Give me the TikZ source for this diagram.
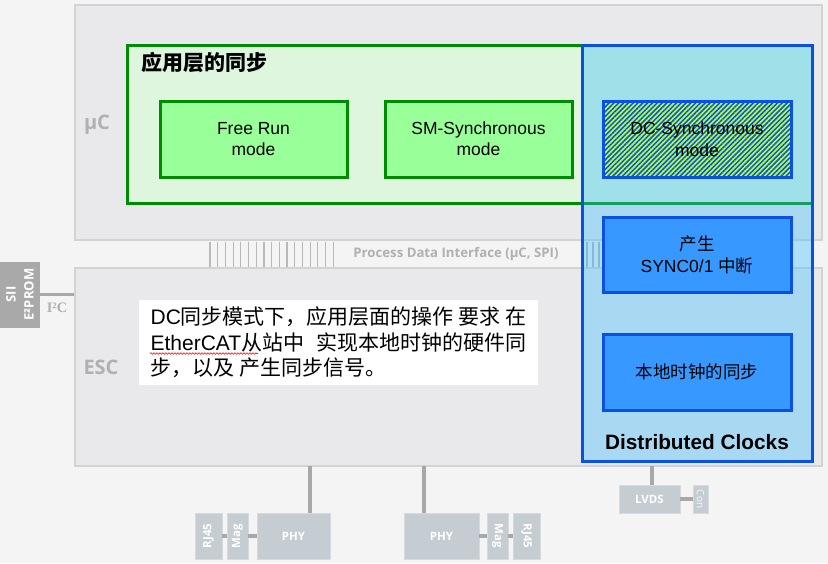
\documentclass[tikz,border=0pt]{standalone}
\usepackage{fontspec}
\setmainfont{Liberation Sans}
\newfontfamily\cjk{Noto Sans CJK SC}
\newfontfamily\uifont{Open Sans}
\newfontfamily\serifb{Liberation Serif}
\usepackage{xcolor}
\usetikzlibrary{positioning,patterns.meta,decorations.pathmorphing}
\newcommand{\zh}[1]{{\cjk #1}}

\definecolor{bggray}{HTML}{F4F4F4}
\definecolor{boxgray}{HTML}{E9E9EB}
\definecolor{boxline}{HTML}{D3D3D5}
\definecolor{lblgray}{HTML}{B0B0B0}
\definecolor{wiregray}{HTML}{A8A8A8}
\definecolor{siigray}{HTML}{A9A9A9}
\definecolor{greenfill}{HTML}{DDF6DD}
\definecolor{greenline}{HTML}{008C00}
\definecolor{modefill}{HTML}{99FF99}
\definecolor{dcfill}{HTML}{39BBFF}
\definecolor{dcline}{HTML}{0A50E2}
\definecolor{syncfill}{HTML}{3799FF}
\definecolor{dclime}{HTML}{B4FF3C}
\definecolor{portfill}{HTML}{C5CDD2}
\definecolor{portline}{HTML}{D4DADD}

\begin{document}
\begin{tikzpicture}[x=1pt,y=-1pt,
    block/.style={rectangle, inner sep=0pt, align=center},
    chipbox/.style={block, fill=boxgray, draw=boxline, line width=1.5},
    modebox/.style={block, fill=modefill, draw=greenline, line width=3,
        minimum width=187, minimum height=76, font=\fontsize{17.5}{21}\selectfont},
    dcbox/.style={block, fill=syncfill, draw=dcline, line width=3,
        minimum width=188, minimum height=76, font=\fontsize{17.5}{22}\selectfont},
    portbox/.style={block, fill=portfill, draw=portline, line width=0.8, text=white,
        font=\uifont\bfseries\fontsize{11.5}{13}\selectfont},
    wire/.style={wiregray, line width=3.5},
    pdiline/.style={wiregray!80, line width=1.2},
    graylbl/.style={text=lblgray, font=\uifont\bfseries\fontsize{20}{24}\selectfont}
]
    \useasboundingbox (0,0) rectangle (828,563);
    \fill[bggray] (0,0) rectangle (828,563);

    % uC and ESC
    \node[chipbox, minimum width=747, minimum height=235] (uc) at (448.5,122.5) {};
    \node[chipbox, minimum width=747, minimum height=198] (esc) at (448.5,367) {};
    \node[graylbl] (uclbl) at (97,125) {µC};
    \node[graylbl] (esclbl) at (101,367) {ESC};

    % Process Data Interface
    \foreach \i in {0,...,16}
        \draw[pdiline] (210+\i*7.7,242) -- (210+\i*7.7,267);
    \foreach \xx in {587,593,599}
        \draw[pdiline] (\xx,242) -- (\xx,267);
    \node[text=lblgray, font=\uifont\bfseries\fontsize{13.2}{15}\selectfont] (pdi) at (456,254)
        {Process Data Interface (µC, SPI)};

    % SII EEPROM
    \node[block, fill=siigray, rotate=90, minimum width=66, minimum height=40, text=white,
        font=\uifont\bfseries\fontsize{13}{18}\selectfont] (sii) at (20,294.5) {SII\\E²PROM};
    \draw[wiregray, line width=2.2] (sii) -- (sii -| esc.west);
    \node[text=lblgray, font=\serifb\bfseries\fontsize{14.5}{16}\selectfont] (i2c) at (57,308) {I²C};

    % application layer sync
    \node[block, fill=greenfill, draw=greenline, line width=3,
        minimum width=685, minimum height=158] (apps) at (469.5,124) {};
    \node[anchor=west, font=\cjk\bfseries\fontsize{21}{24}\selectfont] (appt) at (138,62) {应用层的同步};
    \node[modebox] (free) at (253.5,139) {Free Run\\mode};
    \node[modebox] (smsync) at (478.5,139) {SM-Synchronous\\mode};

    % Distributed Clocks
    \node[block, fill=dcfill, fill opacity=0.37, draw=dcline, line width=3,
        minimum width=230, minimum height=416] (dc) at (697,253) {};
    \node[dcbox, preaction={fill=dclime}, fill=none,
        pattern={Lines[angle=45, distance=3.4pt, line width=1.5pt]}, pattern color=dcline]
        (dcsync) at (697,139) {DC-Synchronous\\mode};
    \node[dcbox, minimum height=75] (syncgen) at (697,254.5) {\zh{产生}\\SYNC0/1 \zh{中断}};
    \node[dcbox] (localclk) at (697,372) {\zh{本地时钟的同步}};
    \node[font=\bfseries\fontsize{20.8}{24}\selectfont] (dclbl) at (697,442) {Distributed Clocks};

    % note
    \node[block, fill=white, align=left, minimum width=399, minimum height=85,
        font=\fontsize{21}{25.5}\selectfont] (desc) at (338.5,342.5)
        {DC\zh{同步模式下，应用层面的操作 要求 在}\\
         EtherCAT\zh{从站中\hspace{12pt}实现本地时钟的硬件同}\\
         \zh{步，以及 产生同步信号。}};
    \draw[red, line width=0.6, decorate, decoration={snake, amplitude=0.8, segment length=3}]
        (150,353.5) -- (258,353.5);

    % ports
    \node[portbox, minimum width=73, minimum height=46] (phyA) at (293.5,536) {PHY};
    \node[portbox, rotate=90, minimum width=46, minimum height=21] (magA) at (237.5,536) {Mag};
    \node[portbox, rotate=90, minimum width=46, minimum height=27] (rjA) at (208.5,536) {RJ45};
    \node[portbox, minimum width=75, minimum height=46] (phyB) at (441.5,536) {PHY};
    \node[portbox, rotate=-90, minimum width=46, minimum height=21] (magB) at (497.5,536) {Mag};
    \node[portbox, rotate=-90, minimum width=46, minimum height=27] (rjB) at (526.5,536) {RJ45};
    \node[portbox, minimum width=61, minimum height=28] (lvds) at (649.5,499) {LVDS};
    \node[portbox, rotate=-90, minimum width=28, minimum height=15, text=white!85!portfill,
        font=\uifont\fontsize{10}{11}\selectfont] (con) at (700.5,499) {Con};

    \coordinate (tapA) at (310,466);
    \coordinate (tapB) at (424,466);
    \coordinate (tapC) at (652,466);
    \draw[wire] (tapA) -- (tapA |- phyA.north);
    \draw[wire] (tapB) -- (tapB |- phyB.north);
    \draw[wire] (tapC) -- (tapC |- lvds.north);
    \draw[wire] (rjA) -- (magA);
    \draw[wire] (magA) -- (phyA);
    \draw[wire] (phyB) -- (magB);
    \draw[wire] (magB) -- (rjB);
    \draw[wire] (lvds) -- (con);
\end{tikzpicture}
\end{document}
